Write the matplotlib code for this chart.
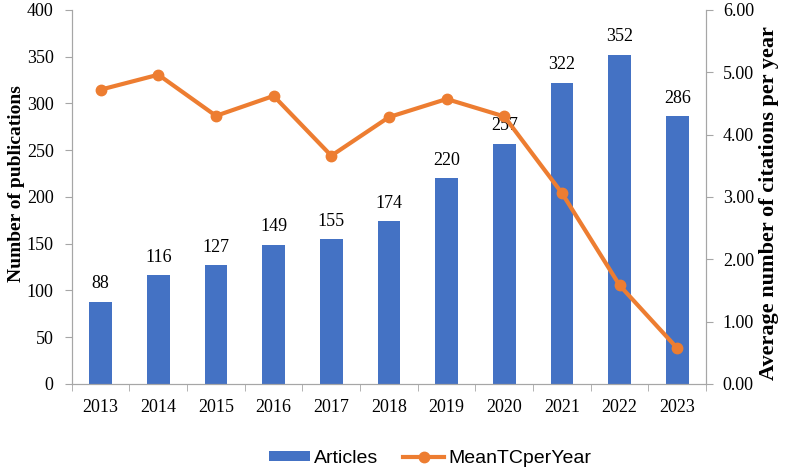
import numpy as np
import matplotlib.pyplot as plt

# Data
years = ['2013', '2014', '2015', '2016', '2017', '2018', '2019', '2020', '2021', '2022', '2023']
articles = [88, 116, 127, 149, 155, 174, 220, 257, 322, 352, 286]
mean_tc = [4.72, 4.96, 4.30, 4.62, 3.66, 4.28, 4.57, 4.29, 3.06, 1.58, 0.57]

bar_color = '#4472C4'
line_color = '#ED7D31'
spine_color = '#A6A6A6'

plt.rcParams['font.family'] = ['Liberation Serif', 'DejaVu Serif']

fig = plt.figure(figsize=(7.89, 4.71), dpi=100)
ax = fig.add_axes([0.091, 0.185, 0.804, 0.794])
ax2 = ax.twinx()

x = np.arange(len(years))
bars = ax.bar(x, articles, width=0.39, color=bar_color, label='Articles', zorder=2)
for xi, v in zip(x, articles):
    ax.text(xi, v + 10, str(v), ha='center', va='bottom', fontsize=13)

line, = ax2.plot(x, mean_tc, color=line_color, linewidth=3, marker='o', markersize=7.5,
                 label='MeanTCperYear', zorder=3)

ax.set_xlim(-0.5, len(years) - 0.5)
ax.set_ylim(0, 400)
ax.set_yticks(np.arange(0, 401, 50))
ax2.set_ylim(0, 6)
ax2.set_yticks(np.arange(0, 6.01, 1))
ax2.set_yticklabels(['{:.2f}'.format(v) for v in np.arange(0, 6.01, 1)])

ax.set_xticks(x)
ax.set_xticklabels(years)
ax.set_xticks(np.arange(-0.5, len(years), 1), minor=True)
ax.tick_params(axis='x', which='major', length=0, labelsize=13, pad=11)
ax.tick_params(axis='x', which='minor', length=5, color=spine_color)
ax.tick_params(axis='y', length=5, color=spine_color, labelsize=13, pad=8)
ax2.tick_params(axis='y', length=5, color=spine_color, labelsize=13, pad=7)

for a in (ax, ax2):
    a.spines['top'].set_visible(False)
    for s in ('left', 'right', 'bottom'):
        a.spines[s].set_color(spine_color)

ax.set_ylabel('Number of publications', fontsize=14, fontweight='bold')
ax.yaxis.set_label_coords(-0.073, 0.535)
ax2.set_ylabel('Average number of citations per year', fontsize=16, fontweight='bold')
ax2.yaxis.set_label_coords(1.083, 0.484)

fig.legend([bars, line], ['Articles', 'MeanTCperYear'], loc='center',
           bbox_to_anchor=(0.545, 0.026), ncol=2, frameon=False,
           prop={'family': 'Liberation Sans', 'size': 14}, handlelength=2.1,
           handleheight=0.4, handletextpad=0.2, columnspacing=1.3)

fig.savefig('out.png', dpi=100)
